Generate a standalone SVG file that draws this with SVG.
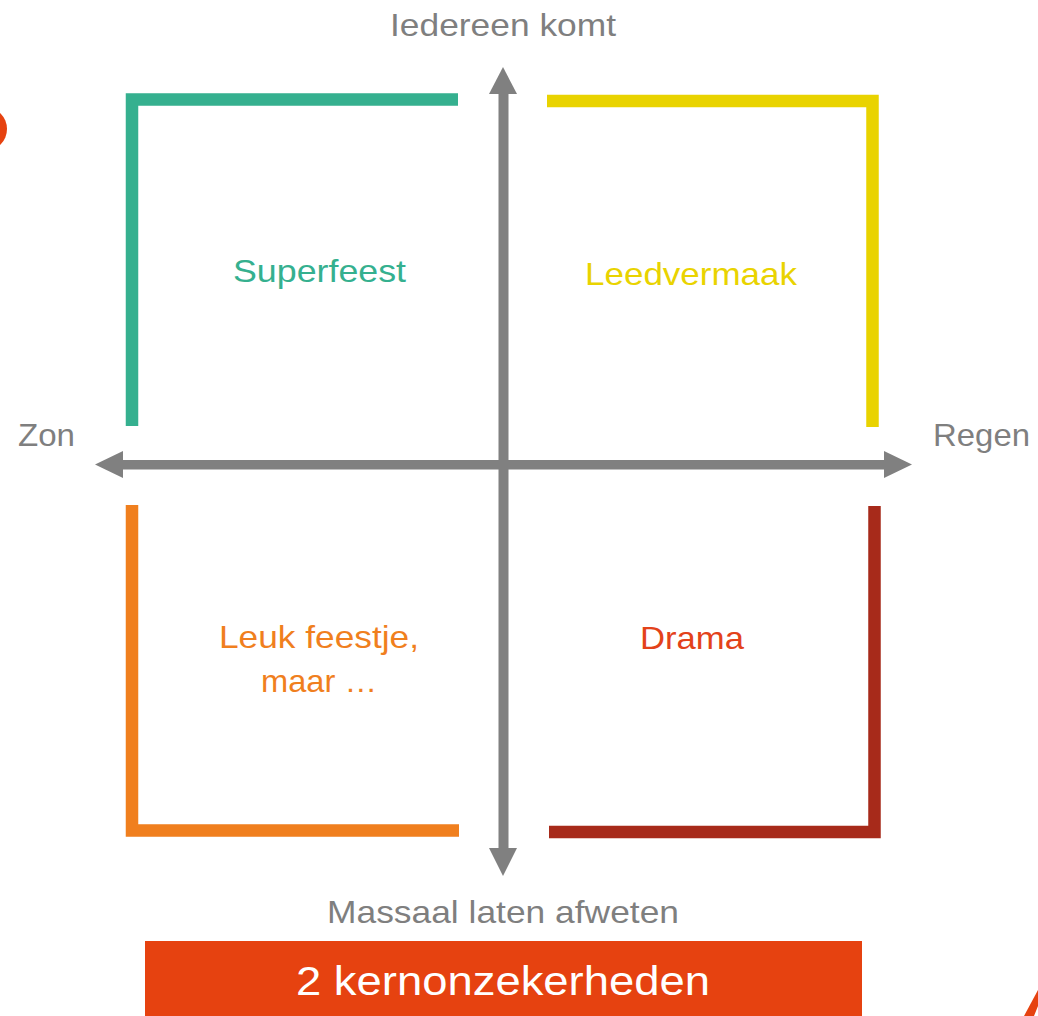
<svg xmlns="http://www.w3.org/2000/svg" width="1038" height="1016" viewBox="0 0 1038 1016">
<style>
.lbl{font-family:"Liberation Sans",Arial,sans-serif;font-size:32px;text-anchor:middle}
.axis{fill:#7f7f7f}
.br{fill:none;stroke-width:12.5;stroke-linecap:butt;stroke-linejoin:miter}
</style>
<rect width="1038" height="1016" fill="#ffffff"/>
<g id="decor">
<circle cx="-15" cy="129" r="22" fill="#E64210"/>
<polygon points="1024,1016 1034,1016 1038,1006 1038,990" fill="#E64210"/>
</g>
<g id="connectors">
<rect x="498.5" y="92" width="10" height="758" fill="#808080"/>
<polygon points="503,67 489,94 517,94" fill="#808080"/>
<polygon points="503,876 489,848 517,848" fill="#808080"/>
<rect x="120" y="460" width="766" height="9.5" fill="#808080"/>
<polygon points="95,464.5 123,451 123,478" fill="#808080"/>
<polygon points="912,464.5 884,451 884,478" fill="#808080"/>
</g>
<g id="superfeest">
<polyline class="br" stroke="#35B08F" points="132,426 132,99.5 458,99.5"/>
<text class="lbl" x="319.5" y="282" fill="#35B08F" textLength="173" lengthAdjust="spacingAndGlyphs">Superfeest</text>
</g>
<g id="leedvermaak">
<polyline class="br" stroke="#E9D300" points="547,101 872.5,101 872.5,427"/>
<text class="lbl" x="691" y="285" fill="#E9D300" textLength="212" lengthAdjust="spacingAndGlyphs">Leedvermaak</text>
</g>
<g id="leuk-feestje">
<polyline class="br" stroke="#F07F1E" points="132,505 132,830.5 459,830.5"/>
<text class="lbl" x="319" y="648" fill="#F07F1E" textLength="200" lengthAdjust="spacingAndGlyphs">Leuk feestje,</text>
<text class="lbl" x="319" y="692" fill="#F07F1E" textLength="116" lengthAdjust="spacingAndGlyphs">maar …</text>
</g>
<g id="drama">
<polyline class="br" stroke="#A72A1A" points="549,832 874.5,832 874.5,506"/>
<text class="lbl" x="692" y="649" fill="#E3421A" textLength="104" lengthAdjust="spacingAndGlyphs">Drama</text>
</g>
<g id="axis-labels">
<text class="lbl axis" x="503" y="36" textLength="226" lengthAdjust="spacingAndGlyphs">Iedereen komt</text>
<text class="lbl axis" x="46.5" y="446" textLength="57" lengthAdjust="spacingAndGlyphs">Zon</text>
<text class="lbl axis" x="981.5" y="446" textLength="97" lengthAdjust="spacingAndGlyphs">Regen</text>
<text class="lbl axis" x="503" y="923" textLength="352" lengthAdjust="spacingAndGlyphs">Massaal laten afweten</text>
</g>
<g id="kernonzekerheden">
<rect x="145" y="941" width="717" height="80" fill="#E64210"/>
<text class="lbl" x="503" y="995" fill="#ffffff" style="font-size:40px" textLength="414" lengthAdjust="spacingAndGlyphs">2 kernonzekerheden</text>
</g>
</svg>
